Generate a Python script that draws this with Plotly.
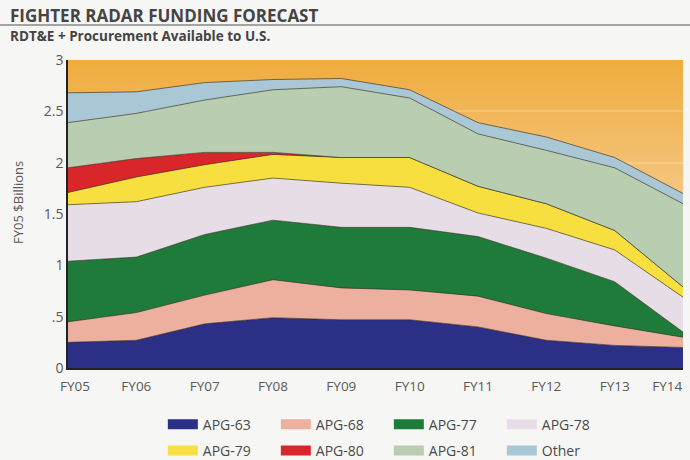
import plotly.graph_objects as go
import numpy as np

years = ["FY05", "FY06", "FY07", "FY08", "FY09", "FY10", "FY11", "FY12", "FY13", "FY14"]

apg63 = [0.25, 0.27, 0.43, 0.49, 0.47, 0.47, 0.40, 0.27, 0.22, 0.20]
apg68 = [0.20, 0.27, 0.28, 0.37, 0.31, 0.29, 0.30, 0.26, 0.19, 0.10]
apg77 = [0.59, 0.54, 0.59, 0.58, 0.59, 0.61, 0.58, 0.54, 0.43, 0.05]
apg78 = [0.55, 0.54, 0.46, 0.41, 0.43, 0.39, 0.23, 0.29, 0.31, 0.34]
apg79 = [0.12, 0.24, 0.22, 0.23, 0.25, 0.29, 0.26, 0.24, 0.19, 0.10]
apg80 = [0.24, 0.18, 0.12, 0.02, 0.00, 0.00, 0.00, 0.00, 0.00, 0.00]
apg81 = [0.44, 0.44, 0.51, 0.61, 0.69, 0.58, 0.51, 0.52, 0.61, 0.81]
other = [0.29, 0.21, 0.17, 0.10, 0.08, 0.08, 0.11, 0.13, 0.10, 0.10]

y_max = 3.0
y_ticks = [0, 0.5, 1, 1.5, 2, 2.5, 3]
y_tick_labels = ["0", ".5", "1", "1.5", "2", "2.5", "3"]

series = [
    ("APG-63", apg63, "#2C2F86", "legend"),
    ("APG-68", apg68, "#EDB09F", "legend"),
    ("APG-77", apg77, "#1F7B3A", "legend"),
    ("APG-78", apg78, "#E6DDE7", "legend"),
    ("APG-79", apg79, "#F6DF3E", "legend2"),
    ("APG-80", apg80, "#D8262B", "legend2"),
    ("APG-81", apg81, "#B9CDB1", "legend2"),
    ("Other", other, "#A9C7D5", "legend2"),
]

# x tick labels: first / last padded so they sit inside the frame like the original
nb = "\u00a0"
x_tick_text = list(years)
x_tick_text[0] = nb * 4 + years[0]
x_tick_text[-1] = years[-1] + nb * 9

fig = go.Figure()

for name, vals, col, _ in series:
    fig.add_trace(go.Scatter(
        x=years, y=vals, name=name, stackgroup="s", mode="lines",
        line=dict(color="rgba(40,40,40,0.6)", width=1),
        fillcolor=col, showlegend=False, legendgroup=name,
    ))

# orange headroom up to the top of the axis
total = np.sum([s[1] for s in series], axis=0)
headroom = (y_max - total).tolist()
fig.add_trace(go.Scatter(
    x=years, y=headroom, stackgroup="s", mode="lines",
    line=dict(width=0),
    fillgradient=dict(type="vertical",
                      colorscale=[[0, "rgba(246,202,138,0.85)"],
                                  [1, "rgba(239,172,60,0.88)"]]),
    showlegend=False, hoverinfo="skip",
))

# legend entries
for name, vals, col, lg in series:
    fig.add_trace(go.Scatter(
        x=[None], y=[None], mode="lines", name=name, legend=lg,
        line=dict(color=col, width=14), legendgroup=name,
    ))

font_main = "Open Sans, DejaVu Sans, sans-serif"
leg_common = dict(orientation="h", xanchor="left", yanchor="middle",
                  xref="container", yref="container",
                  entrywidth=68, entrywidthmode="pixels",
                  font=dict(family=font_main, size=14, color="#4a4a4a"),
                  bgcolor="rgba(0,0,0,0)", itemwidth=30, traceorder="normal")

fig.update_layout(
    width=690, height=460,
    margin=dict(l=68, r=7, t=60, b=92, autoexpand=False),
    paper_bgcolor="#F6F6F4",
    plot_bgcolor="#F0AE48",
    font=dict(family=font_main, color="#555"),
    xaxis=dict(range=[0, 9], tickvals=years, ticktext=x_tick_text,
               showgrid=False, showline=True, linecolor="#222",
               linewidth=1.5, ticks="outside", ticklen=5, tickcolor="rgba(0,0,0,0)",
               tickfont=dict(size=13.5, color="#5a5a5a"),
               fixedrange=True, automargin=False),
    yaxis=dict(range=[0, y_max], tickvals=y_ticks, ticktext=y_tick_labels,
               showgrid=True, gridcolor="#FFFFFF", gridwidth=1.5,
               showline=True, linecolor="#222", linewidth=1.5, ticks="",
               tickfont=dict(size=14, color="#5a5a5a"), zeroline=False,
               fixedrange=True, automargin=False),
    legend=dict(x=0.236, y=0.077, **leg_common),
    legend2=dict(x=0.236, y=0.02, **leg_common),
    showlegend=True,
)

fig.add_annotation(text="<b>FIGHTER RADAR FUNDING FORECAST</b>", xref="paper", yref="paper",
                   x=-0.0976, y=1.1445, xanchor="left", yanchor="middle", showarrow=False,
                   font=dict(family=font_main, size=17, color="#444"))
fig.add_annotation(text="<b>RDT&E + Procurement Available to U.S.</b>", xref="paper", yref="paper",
                   x=-0.0976, y=1.078, xanchor="left", yanchor="middle", showarrow=False,
                   font=dict(family=font_main, size=13.5, color="#444"))
fig.add_annotation(text="FY05 $Billions", xref="paper", yref="paper",
                   x=-0.0813, y=0.536, xanchor="center", yanchor="middle", showarrow=False,
                   textangle=-90, font=dict(family=font_main, size=13, color="#5a5a5a"))
fig.add_shape(type="line", xref="paper", yref="paper", x0=-0.111, x1=1.012,
              y0=1.1136, y1=1.1136, line=dict(color="#888", width=1.5))

fig.write_html("out.html", config={"displayModeBar": False},
               post_script="document.body.style.margin='0';document.body.style.overflow='hidden';")
